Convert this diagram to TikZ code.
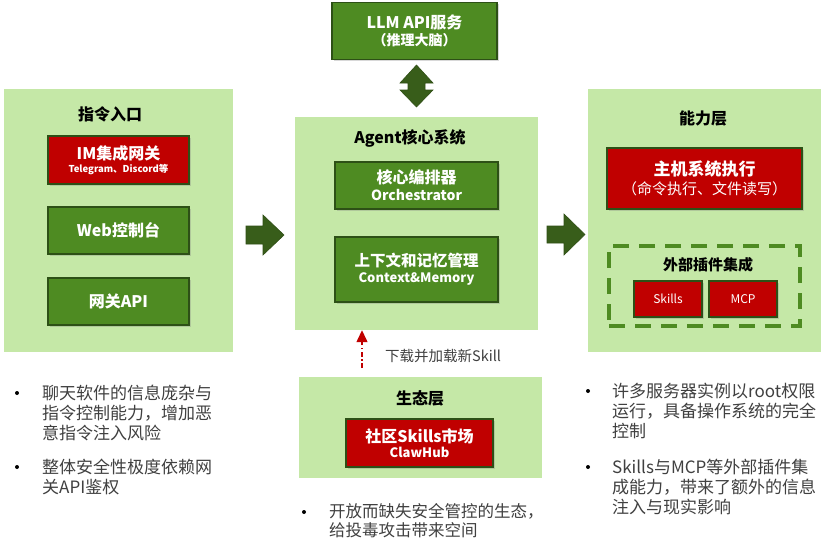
\documentclass[tikz,border=0pt]{standalone}
\usepackage{fontspec}
\setmainfont{Noto Sans CJK SC}
\usetikzlibrary{arrows.meta,shadows}
\definecolor{panelgreen}{HTML}{C5E8A7}
\definecolor{boxgreen}{HTML}{4E8B22}
\definecolor{boxborder}{HTML}{2D5016}
\definecolor{boxred}{HTML}{C00000}
\definecolor{arrowgreen}{HTML}{385D1A}
\definecolor{textgray}{HTML}{404040}
\newcommand{\myfs}[2]{\fontsize{#1}{#2}\selectfont}
\tikzset{
  panel/.style={fill=panelgreen, draw=none, inner sep=0},
  gbox/.style={draw=boxborder, line width=1.5pt, fill=boxgreen, text=white, font=\bfseries, align=center, inner sep=0,
    drop shadow={opacity=0.3, shadow xshift=1.5pt, shadow yshift=-1.5pt}},
  rbox/.style={gbox, fill=boxred},
  ptitle/.style={font=\bfseries\myfs{16}{18}, text=black, inner sep=0},
  btext/.style={anchor=north west, align=left, inner sep=0, text=textgray, font=\myfs{17}{20}},
  bdot/.style={circle, fill=black, inner sep=0, minimum size=4pt},
  blockarrow/.style={fill=arrowgreen, draw=arrowgreen!85!black, line width=0.6pt, line join=miter},
}
\begin{document}
\begin{tikzpicture}[x=1pt,y=-1pt]
\useasboundingbox (0,0) rectangle (822,544);
\fill[white] (0,0) rectangle (822,544);

% top LLM
\node[gbox, minimum width=165pt, minimum height=57pt] (llm) at (414.5,31)
  {\myfs{16}{18}LLM API服务\\[3pt]\myfs{14}{17}（推理大脑）};

% double arrow
\fill[blockarrow] (416.5,65) -- (433,83) -- (425,83) -- (425,90) -- (433,90) -- (416.5,107)
  -- (400,90) -- (408,90) -- (408,83) -- (400,83) -- cycle;

% left panel
\node[panel, minimum width=229pt, minimum height=263pt] (left) at (118.5,220.5) {};
\node[ptitle] (lefttitle) at (110,114) {指令入口};
\node[rbox, minimum width=141pt, minimum height=48pt] (im) at (118.5,160)
  {\myfs{16}{14}IM集成网关\\[1pt]\myfs{9.5}{12}Telegram、Discord等};
\node[gbox, minimum width=141pt, minimum height=47pt] (web) at (118.5,230.5) {\myfs{16}{18}Web控制台};
\node[gbox, minimum width=141pt, minimum height=47pt] (gapi) at (118.5,301.5) {\myfs{16}{18}网关API};

% center panel
\node[panel, minimum width=243pt, minimum height=213pt] (core) at (416.5,223.5) {};
\node[ptitle] (coretitle) at (410,138) {Agent核心系统};
\node[gbox, minimum width=163pt, minimum height=47pt] (orch) at (416.5,185.5)
  {\myfs{16}{18}核心编排器\\[3pt]\myfs{14}{16.5}Orchestrator};
\node[gbox, minimum width=163pt, minimum height=65pt] (ctx) at (416.5,269.5)
  {\myfs{15.5}{18}上下文和记忆管理\\[4pt]\myfs{13}{16}Context\&Memory};

% right panel
\node[panel, minimum width=233pt, minimum height=263pt] (cap) at (704.5,220.5) {};
\node[ptitle] (captitle) at (703,118) {能力层};
\node[rbox, minimum width=195pt, minimum height=61pt] (host) at (704.5,178.5)
  {\myfs{17}{19}主机系统执行\\[3pt]\mdseries\myfs{15}{19}（命令执行、文件读写）};
\node[draw=boxgreen, line width=4pt, dash pattern=on 16pt off 10pt, minimum width=191pt, minimum height=80pt, inner sep=0] (ext) at (704.5,286) {};
\node[font=\bfseries\myfs{15}{17}, text=black, inner sep=0] (exttitle) at (708,265) {外部插件集成};
\node[rbox, font=\mdseries\myfs{12}{14}, minimum width=68pt, minimum height=36pt] (skills) at (668,299) {Skills};
\node[rbox, font=\mdseries\myfs{12}{14}, minimum width=68pt, minimum height=36pt] (mcp) at (743,299) {MCP};

% block arrows
\fill[blockarrow] (246,226) -- (263,226) -- (263,215) -- (284,235) -- (263,255) -- (263,244) -- (246,244) -- cycle;
\fill[blockarrow] (547,226) -- (564,226) -- (564,214) -- (585,234.5) -- (564,255) -- (564,243) -- (547,243) -- cycle;

% ecosystem
\node[panel, minimum width=243pt, minimum height=101pt] (eco) at (420.5,427.5) {};
\node[ptitle] (ecotitle) at (420,398) {生态层};
\node[rbox, minimum width=147pt, minimum height=48pt] (hub) at (419.5,443)
  {\myfs{16}{18}社区Skills市场\\[3pt]\myfs{13}{15.5}ClawHub};

% download arrow
\coordinate (dlstart) at (362,368);
\draw[boxred, line width=1.3pt, dash pattern=on 5pt off 2.5pt on 1.5pt off 2.5pt,
  -{Triangle[width=11pt,length=12pt]}] (dlstart) -- (dlstart |- core.south);
\node[anchor=west, inner sep=0, text=textgray, font=\myfs{14.5}{16}] (dllabel) at (385,356) {下载并加载新Skill};

% bullets left
\node[bdot] (lb1) at (17,393) {};
\node[btext] (lt1) at (42,384.5) {聊天软件的信息庞杂与\\指令控制能力，增加恶\\意指令注入风险};
\node[bdot] (lb2) at (17,467) {};
\node[btext] (lt2) at (42,458.5) {整体安全性极度依赖网\\关API鉴权};

% bullets right
\node[bdot] (rb1) at (588,391) {};
\node[btext] (rt1) at (612,382.5) {许多服务器实例以root权限\\运行，具备操作系统的完全\\控制};
\node[bdot] (rb2) at (588,467) {};
\node[btext] (rt2) at (612,458.5) {Skills与MCP等外部插件集\\成能力，带来了额外的信息\\注入与现实影响};

% bullet center
\node[bdot] (cb1) at (304,512) {};
\node[btext, font=\myfs{16.5}{18.5}] (ct1) at (329,503.5) {开放而缺失安全管控的生态，\\给投毒攻击带来空间};
\end{tikzpicture}
\end{document}
